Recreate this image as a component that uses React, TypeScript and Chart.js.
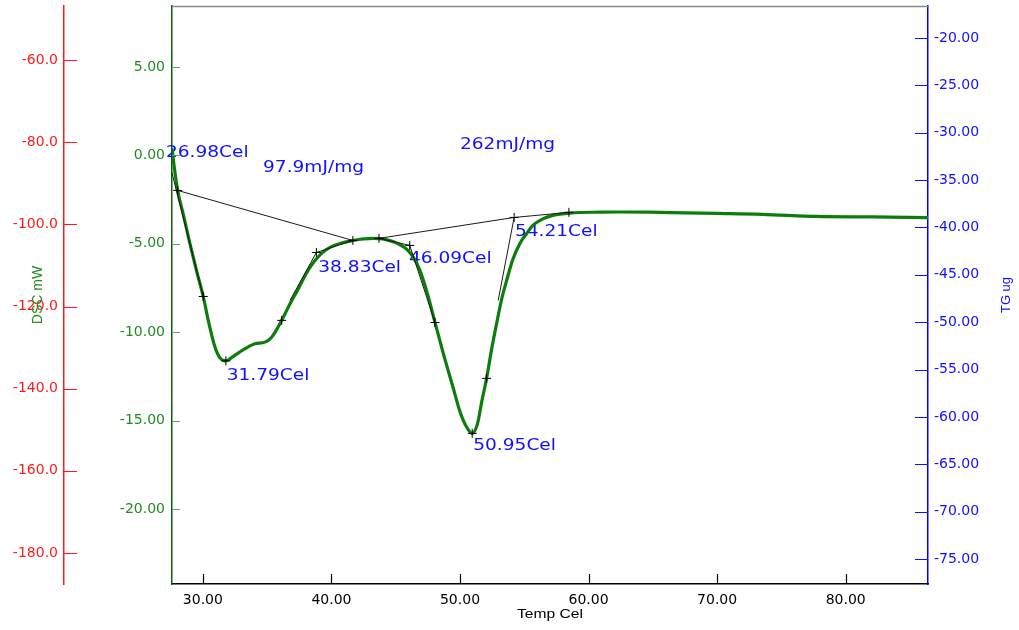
import React, { useEffect, useRef } from "react";
import { Chart, registerables } from "chart.js";

Chart.register(...registerables);

// ---------- axis ranges / ticks ----------
const tempRange = [27.6, 86.4];
const tempStep = 10;
const dscRange = [-24.24, 8.45];
const dscStep = 5;
const redRange = [-187.55, -46.85];
const redStep = 20;
const tgRange = [-77.64, -16.62];
const tgStep = 5;

// ---------- DSC curve (Temp Cel, mW) ----------
const dscTemp = [
  27.6, 27.8, 28.04, 28.5, 29.0, 29.5, 30.03, 30.45, 30.94, 31.33, 31.79, 32.2, 32.8, 33.28, 34.05,
  34.83, 35.35, 36.13, 36.78, 37.42, 38.1, 38.72, 39.3, 39.89, 40.8, 41.67, 42.5, 43.3, 44.0,
  44.55, 45.2, 45.85, 46.4, 46.88, 47.5, 48.05, 48.7, 49.45, 50.0, 50.5, 50.95, 51.35, 51.7,
  52.07, 52.45, 52.85, 53.25, 53.63, 54.1, 54.66, 55.2, 55.67, 56.4, 57.23, 58.55, 60.88, 62.5,
  64.77, 67.5, 69.98, 73.5, 77.76, 82.0, 86.4,
];
const dscValues = [
  0.4, -0.8, -1.98, -3.4, -5.0, -6.5, -7.98, -9.43, -10.84, -11.45, -11.62, -11.45, -11.15, -10.93, -10.65,
  -10.56, -10.28, -9.33, -8.39, -7.55, -6.6, -5.95, -5.5, -5.2, -4.95, -4.81, -4.72, -4.69, -4.72,
  -4.82, -5.0, -5.3, -5.8, -6.5, -7.9, -9.43, -11.2, -13.1, -14.5, -15.35, -15.72, -15.2, -13.9,
  -12.6, -11.0, -9.5, -8.1, -7.07, -5.9, -4.98, -4.4, -3.96, -3.6, -3.39, -3.26, -3.21, -3.2,
  -3.21, -3.25, -3.28, -3.33, -3.45, -3.48, -3.52,
];

// ---------- analysis marks ("+" markers) ----------
const markerTemp = [28.04, 30.03, 31.79, 36.13, 38.83, 41.67, 43.7, 46.09, 48.05, 50.95, 52.07, 54.21, 58.47];
const markerDsc = [-1.98, -7.98, -11.62, -9.33, -5.49, -4.81, -4.69, -5.09, -9.45, -15.72, -12.61, -3.51, -3.22];

// ---------- analysis lines (baselines / tangents) ----------
const onsetTangentTemp = [27.58, 30.03];
const onsetTangentDsc = [-0.94, -7.98];
const baseline1Temp = [28.04, 41.67];
const baseline1Dsc = [-1.98, -4.81];
const tangent1Temp = [36.78, 38.83, 41.67];
const tangent1Dsc = [-8.2, -5.49, -4.81];
const baseline2Temp = [43.7, 54.21, 58.47];
const baseline2Dsc = [-4.69, -3.51, -3.22];
const tangent2Temp = [43.7, 46.09, 48.05];
const tangent2Dsc = [-4.69, -5.09, -9.45];
const tangent3Temp = [54.21, 52.97];
const tangent3Dsc = [-3.51, -8.2];

// ---------- annotation texts ----------
const annotationText = ["26.98Cel", "97.9mJ/mg", "262mJ/mg", "38.83Cel", "46.09Cel", "54.21Cel", "31.79Cel", "50.95Cel"];
const annotationTemp = [27.13, 34.68, 50.0, 38.98, 46.03, 54.27, 31.85, 51.03];
const annotationDsc = [0.15, -0.68, 0.6, -6.34, -5.84, -4.34, -12.45, -16.44];

const toPoints = (xs: number[], ys: number[]) => xs.map((x, i) => ({ x, y: ys[i] }));

const lineSet = (xs: number[], ys: number[]) => ({
  data: toPoints(xs, ys),
  showLine: true,
  borderColor: "#1a1a1a",
  borderWidth: 1,
  pointRadius: 0,
  tension: 0,
  yAxisID: "yDSC",
  order: 1,
});

const GREEN = "#228B22";
const RED = "#ff1a1a";
const BLUE = "#1010ff";
const TICK_FONT = { family: "DejaVu Sans", size: 14 };

const overlayPlugin = {
  id: "overlay",
  beforeDatasetsDraw(chart: any) {
    const { ctx, scales } = chart;
    const xs = scales.x;
    const ys = scales.yDSC;
    ctx.save();
    ctx.font = '16px "DejaVu Sans"';
    ctx.fillStyle = BLUE;
    ctx.textBaseline = "middle";
    ctx.textAlign = "left";
    annotationText.forEach((t, i) => {
      const px = xs.getPixelForValue(annotationTemp[i]);
      const py = ys.getPixelForValue(annotationDsc[i]);
      ctx.save();
      ctx.translate(px, py);
      ctx.scale(1.16, 1);
      ctx.fillText(t, 0, 0);
      ctx.restore();
    });
    ctx.restore();
  },
  afterDraw(chart: any) {
    const { ctx, chartArea: a, scales } = chart;
    ctx.save();
    // top frame
    ctx.strokeStyle = "#8a8a8a";
    ctx.lineWidth = 1.5;
    ctx.beginPath();
    ctx.moveTo(a.left, a.top + 0.5);
    ctx.lineTo(a.right, a.top + 0.5);
    ctx.stroke();

    const tickLines = (scale: any, color: string, draw: (p: number) => void) => {
      ctx.strokeStyle = color;
      ctx.lineWidth = 1.2;
      ctx.beginPath();
      scale.ticks.forEach((t: any) => {
        const p = Math.round(scale.getPixelForValue(t.value)) + 0.5;
        draw(p);
      });
      ctx.stroke();
    };
    tickLines(scales.x, "#000", (p) => {
      ctx.moveTo(p, a.bottom);
      ctx.lineTo(p, a.bottom - 10);
    });
    tickLines(scales.yDSC, "#5aa65a", (p) => {
      ctx.moveTo(a.left, p);
      ctx.lineTo(a.left + 8, p);
    });
    tickLines(scales.yRed, RED, (p) => {
      ctx.moveTo(scales.yRed.right, p);
      ctx.lineTo(scales.yRed.right + 13, p);
    });
    tickLines(scales.yTG, BLUE, (p) => {
      ctx.moveTo(a.right - 13, p);
      ctx.lineTo(a.right, p);
    });

    // axis titles
    const cy = (a.top + a.bottom) / 2;
    ctx.textAlign = "center";
    ctx.textBaseline = "middle";
    ctx.font = '14px "Liberation Sans"';
    ctx.fillStyle = GREEN;
    ctx.save();
    ctx.translate(scales.yRed.left + 38, cy);
    ctx.rotate(-Math.PI / 2);
    ctx.fillText("DSC mW", 0, 0);
    ctx.restore();

    ctx.font = '13px "Liberation Sans"';
    ctx.fillStyle = BLUE;
    ctx.save();
    ctx.translate(scales.yTG.right - 13, cy);
    ctx.rotate(-Math.PI / 2);
    ctx.fillText("TG ug", 0, 0);
    ctx.restore();

    ctx.fillStyle = "#000";
    ctx.save();
    ctx.translate((a.left + a.right) / 2, a.bottom + 30);
    ctx.scale(1.2, 1);
    ctx.fillText("Temp Cel", 0, 0);
    ctx.restore();
    ctx.restore();
  },
};

export default function App() {
  const ref = useRef<HTMLCanvasElement | null>(null);

  useEffect(() => {
    if (!ref.current) return;
    const chart = new Chart(ref.current, {
      type: "scatter",
      data: {
        datasets: [
          {
            data: toPoints(dscTemp, dscValues),
            showLine: true,
            borderColor: "#0c7d0c",
            borderWidth: 3.2,
            pointRadius: 0,
            cubicInterpolationMode: "monotone",
            yAxisID: "yDSC",
            order: 2,
          } as any,
          lineSet(onsetTangentTemp, onsetTangentDsc),
          lineSet(baseline1Temp, baseline1Dsc),
          lineSet(tangent1Temp, tangent1Dsc),
          lineSet(baseline2Temp, baseline2Dsc),
          lineSet(tangent2Temp, tangent2Dsc),
          lineSet(tangent3Temp, tangent3Dsc),
          {
            data: toPoints(markerTemp, markerDsc),
            showLine: false,
            pointStyle: "cross",
            pointRadius: 4.5,
            pointBorderWidth: 1,
            pointBorderColor: "#000",
            borderColor: "#000",
            yAxisID: "yDSC",
            order: 0,
          } as any,
        ],
      },
      options: {
        animation: false,
        responsive: false,
        layout: { padding: { top: 6, left: 0, right: 0, bottom: 0 } },
        plugins: { legend: { display: false }, tooltip: { enabled: false } },
        events: [],
        scales: {
          x: {
            type: "linear",
            position: "bottom",
            min: tempRange[0],
            max: tempRange[1],
            grid: { display: false, drawTicks: false },
            border: { display: true, color: "#000", width: 1.5 },
            ticks: {
              stepSize: tempStep,
              includeBounds: false,
              autoSkip: false,
              maxRotation: 0,
              padding: 8,
              color: "#000",
              font: TICK_FONT,
              callback: (v: any) => Number(v).toFixed(2),
            },
            afterFit: (s: any) => {
              s.height = 46;
              s.paddingLeft = 0;
              s.paddingRight = 0;
            },
          },
          yDSC: {
            type: "linear",
            position: "left",
            weight: 0,
            min: dscRange[0],
            max: dscRange[1],
            grid: { display: false, drawTicks: false },
            border: { display: true, color: "#0a5f0a", width: 1.5 },
            ticks: {
              stepSize: dscStep,
              includeBounds: false,
              autoSkip: false,
              padding: 7,
              color: GREEN,
              font: TICK_FONT,
              callback: (v: any) => Number(v).toFixed(2),
            },
            afterFit: (s: any) => {
              s.width = 108;
              s.paddingTop = 0;
              s.paddingBottom = 0;
            },
          },
          yRed: {
            type: "linear",
            position: "left",
            weight: 1,
            min: redRange[0],
            max: redRange[1],
            grid: { display: false, drawTicks: false },
            border: { display: true, color: RED, width: 1.5 },
            ticks: {
              stepSize: redStep,
              includeBounds: false,
              autoSkip: false,
              padding: 6,
              color: RED,
              font: TICK_FONT,
              callback: (v: any) => Number(v).toFixed(1),
            },
            afterFit: (s: any) => {
              s.width = 64;
              s.paddingTop = 0;
              s.paddingBottom = 0;
            },
          },
          yTG: {
            type: "linear",
            position: "right",
            min: tgRange[0],
            max: tgRange[1],
            grid: { display: false, drawTicks: false },
            border: { display: true, color: "#0000ff", width: 1.5 },
            ticks: {
              stepSize: tgStep,
              includeBounds: false,
              autoSkip: false,
              padding: 6,
              color: BLUE,
              font: TICK_FONT,
              callback: (v: any) => Number(v).toFixed(2),
            },
            afterFit: (s: any) => {
              s.width = 91;
              s.paddingTop = 0;
              s.paddingBottom = 0;
            },
          },
        },
      } as any,
      plugins: [overlayPlugin],
    });
    return () => chart.destroy();
  }, []);

  return (
    <canvas
      ref={ref}
      width={1019}
      height={630}
      style={{ position: "absolute", left: 0, top: 0, display: "block" }}
    />
  );
}
